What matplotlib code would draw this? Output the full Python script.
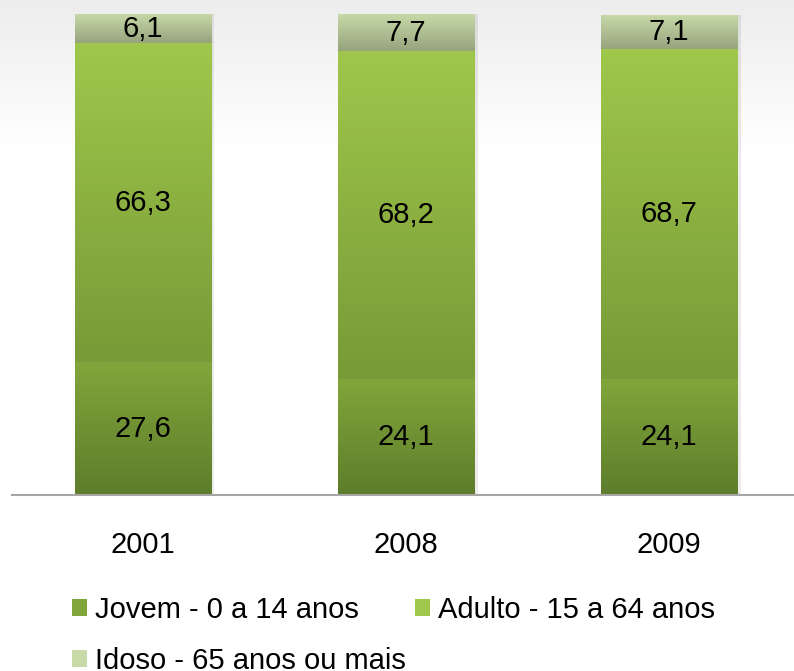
import numpy as np
import matplotlib.pyplot as plt
from matplotlib.colors import LinearSegmentedColormap
from matplotlib.patches import Patch

plt.rcParams['font.family'] = ['Liberation Sans', 'DejaVu Sans']

anos = ["2001", "2008", "2009"]
jovem = [27.6, 24.1, 24.1]
adulto = [66.3, 68.2, 68.7]
idoso = [6.1, 7.7, 7.1]
nomes = ["Jovem - 0 a 14 anos", "Adulto - 15 a 64 anos", "Idoso - 65 anos ou mais"]

# cores (base, topo) de cada serie
cores = [("#5e7d2b", "#82a53b"), ("#789a37", "#9fc74b"), ("#97a47e", "#c7daa8")]

fig = plt.figure(figsize=(7.94, 6.71), dpi=100)

# fundo com leve degrade cinza no topo
bg = fig.add_axes([0, 0, 1, 1], zorder=-1)
grad = np.linspace(0, 1, 300).reshape(-1, 1)
grad = np.clip(grad * 4.5, 0, 1)
bg.imshow(grad, cmap=LinearSegmentedColormap.from_list("bg", ["#ededed", "#ffffff"]),
          aspect="auto", extent=(0, 1, 0, 1), origin="upper")
bg.axis("off")

ax = fig.add_axes([0.015, 0.2623, 0.985, 0.7168])
ax.patch.set_alpha(0)
x = np.arange(len(anos))
largura = 0.52

base = np.zeros(len(anos))
for serie, (c0, c1) in zip([jovem, adulto, idoso], cores):
    barras = ax.bar(x, serie, largura, bottom=base, color=c1, linewidth=0, zorder=2)
    cmap = LinearSegmentedColormap.from_list("g", [c0, c1])
    for b, v in zip(barras, serie):
        x0, y0 = b.get_x(), b.get_y()
        im = ax.imshow(np.linspace(0, 1, 100).reshape(-1, 1), cmap=cmap, origin="lower",
                       aspect="auto", extent=(x0, x0 + b.get_width(), y0, y0 + b.get_height()),
                       zorder=3)
        im.set_clip_path(b)
        ax.text(b.get_x() + b.get_width() / 2, y0 + b.get_height() / 2,
                f"{v:.1f}".replace(".", ","), ha="center", va="center",
                fontsize=21, color="black", zorder=4)
    base += np.array(serie)

# sombra leve a direita das barras
for xi in x:
    ax.bar(xi + 0.012, base[xi], largura, color="#000000", alpha=0.08, linewidth=0, zorder=1)

ax.set_xlim(-0.498, 2.475)
ax.set_ylim(0, 100)
ax.set_xticks(x)
ax.set_xticklabels(anos, fontsize=21)
ax.tick_params(axis="x", length=0, pad=26)
ax.set_yticks([])
for s in ["top", "right", "left"]:
    ax.spines[s].set_visible(False)
ax.spines["bottom"].set_color("#a6a6a6")
ax.spines["bottom"].set_linewidth(1.5)
ax.spines["bottom"].set_zorder(5)

handles = [Patch(facecolor=cores[i][1], edgecolor=cores[i][0], linewidth=0) for i in range(3)]
ordem = [0, 2, 1]
fig.legend([handles[i] for i in ordem], [nomes[i] for i in ordem],
           loc="upper left", bbox_to_anchor=(0.0756, 0.1296), ncol=2, frameon=False,
           fontsize=21, handlelength=0.52, handleheight=0.52, handletextpad=0.27,
           columnspacing=0.31, labelspacing=0.80, borderaxespad=0)

fig.savefig("out.png", dpi=100)
